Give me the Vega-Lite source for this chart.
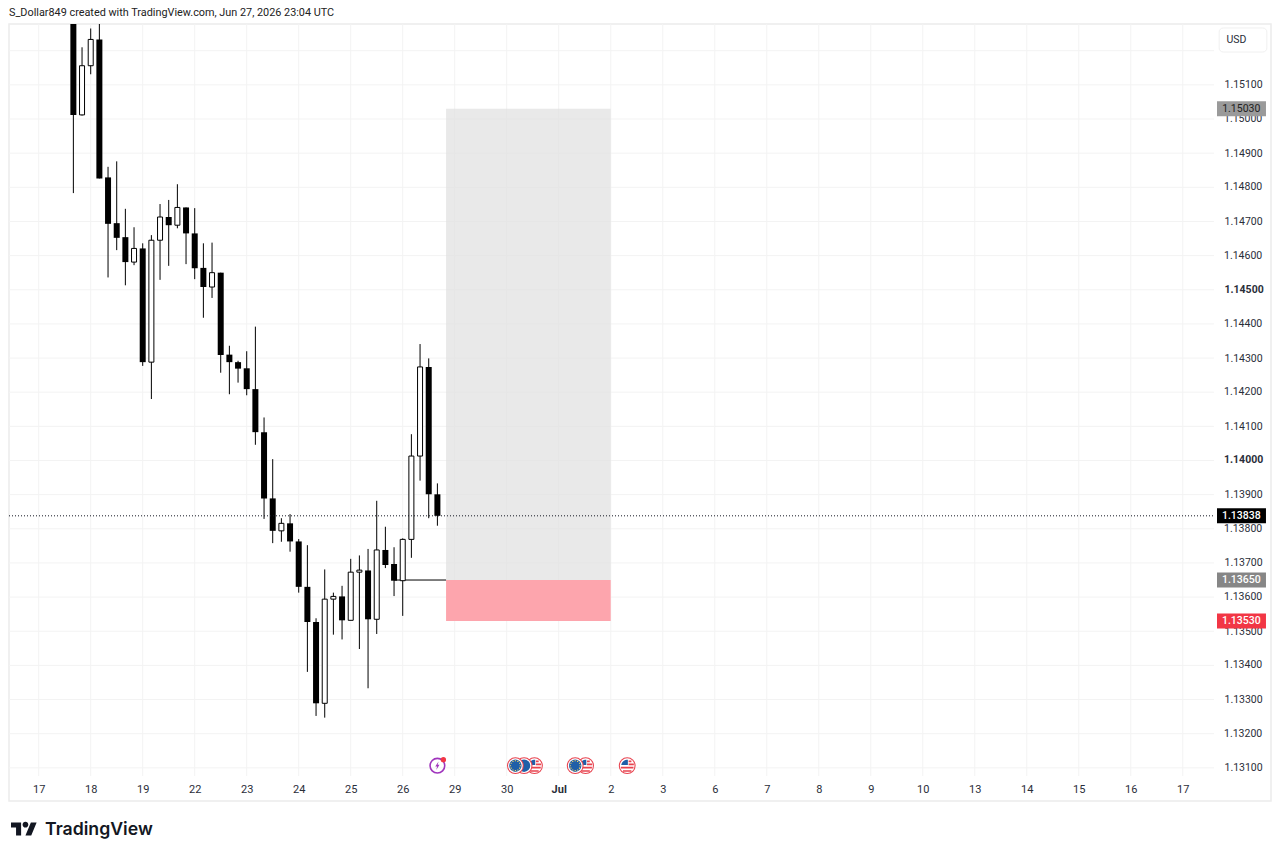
{
  "$schema": "https://vega.github.io/schema/vega-lite/v6.json",
  "autosize": {"type": "none"},
  "width": 1262,
  "height": 777,
  "padding": {"left": 9, "top": 24, "right": 9, "bottom": 55},
  "background": "#ffffff",
  "title": {"text": "S_Dollar849 created with TradingView.com, Jun 27, 2026 23:04 UTC", "anchor": "start", "frame": "group", "offset": 6, "font": "Roboto", "fontSize": 10.85, "fontWeight": "normal", "color": "#222222"},
  "config": {
    "view": {"stroke": "#ececec", "strokeWidth": 1.5},
    "font": "Roboto",
    "scale": {"continuousPadding": 0},
    "axis": {"labelOverlap": false, "labelBound": false, "labelFlush": false, "labelSeparation": 0}
  },
  "datasets": {
    "candles": [
      {"bar": 4, "open": 1.154, "high": 1.155, "low": 1.14783, "close": 1.15012},
      {"bar": 5, "open": 1.15012, "high": 1.1521, "low": 1.1501, "close": 1.15156},
      {"bar": 6, "open": 1.15156, "high": 1.15265, "low": 1.15131, "close": 1.15233},
      {"bar": 7, "open": 1.15233, "high": 1.1529, "low": 1.14826, "close": 1.14826},
      {"bar": 8, "open": 1.14829, "high": 1.1486, "low": 1.14536, "close": 1.14693},
      {"bar": 9, "open": 1.14695, "high": 1.14876, "low": 1.14616, "close": 1.14652},
      {"bar": 10, "open": 1.14654, "high": 1.14737, "low": 1.14513, "close": 1.14581},
      {"bar": 11, "open": 1.14581, "high": 1.14683, "low": 1.14572, "close": 1.14621},
      {"bar": 12, "open": 1.14621, "high": 1.14636, "low": 1.14277, "close": 1.14288},
      {"bar": 13, "open": 1.14288, "high": 1.1466, "low": 1.1418, "close": 1.14645},
      {"bar": 14, "open": 1.14645, "high": 1.14751, "low": 1.14529, "close": 1.14713},
      {"bar": 15, "open": 1.14713, "high": 1.14763, "low": 1.1457, "close": 1.14689},
      {"bar": 16, "open": 1.14689, "high": 1.14809, "low": 1.1468, "close": 1.14741},
      {"bar": 17, "open": 1.14741, "high": 1.14741, "low": 1.14575, "close": 1.14665},
      {"bar": 18, "open": 1.14665, "high": 1.14739, "low": 1.14531, "close": 1.14563},
      {"bar": 19, "open": 1.14564, "high": 1.14636, "low": 1.14418, "close": 1.14508},
      {"bar": 20, "open": 1.14508, "high": 1.14638, "low": 1.14476, "close": 1.1455},
      {"bar": 21, "open": 1.1455, "high": 1.1455, "low": 1.14257, "close": 1.14309},
      {"bar": 22, "open": 1.1431, "high": 1.14336, "low": 1.14194, "close": 1.14288},
      {"bar": 23, "open": 1.14288, "high": 1.14292, "low": 1.14228, "close": 1.14269},
      {"bar": 24, "open": 1.1427, "high": 1.1432, "low": 1.14191, "close": 1.14209},
      {"bar": 25, "open": 1.14209, "high": 1.14392, "low": 1.14046, "close": 1.14083},
      {"bar": 26, "open": 1.14083, "high": 1.14126, "low": 1.13829, "close": 1.13889},
      {"bar": 27, "open": 1.13889, "high": 1.14004, "low": 1.13758, "close": 1.13794},
      {"bar": 28, "open": 1.13794, "high": 1.13831, "low": 1.13762, "close": 1.13816},
      {"bar": 29, "open": 1.13816, "high": 1.13843, "low": 1.13733, "close": 1.13763},
      {"bar": 30, "open": 1.13763, "high": 1.1377, "low": 1.13613, "close": 1.1363},
      {"bar": 31, "open": 1.1363, "high": 1.13752, "low": 1.13381, "close": 1.13527},
      {"bar": 32, "open": 1.13527, "high": 1.13538, "low": 1.13252, "close": 1.13289},
      {"bar": 33, "open": 1.13289, "high": 1.13681, "low": 1.13247, "close": 1.13594},
      {"bar": 34, "open": 1.13594, "high": 1.13613, "low": 1.1349, "close": 1.13602},
      {"bar": 35, "open": 1.13602, "high": 1.13633, "low": 1.13476, "close": 1.13532},
      {"bar": 36, "open": 1.13532, "high": 1.13712, "low": 1.13532, "close": 1.13673},
      {"bar": 37, "open": 1.13673, "high": 1.13722, "low": 1.13448, "close": 1.13679},
      {"bar": 38, "open": 1.13678, "high": 1.13741, "low": 1.13333, "close": 1.13535},
      {"bar": 39, "open": 1.13535, "high": 1.13882, "low": 1.13492, "close": 1.13738},
      {"bar": 40, "open": 1.13738, "high": 1.13806, "low": 1.13685, "close": 1.13694},
      {"bar": 41, "open": 1.13697, "high": 1.13746, "low": 1.13603, "close": 1.13648},
      {"bar": 42, "open": 1.13648, "high": 1.13772, "low": 1.13545, "close": 1.13769},
      {"bar": 43, "open": 1.13769, "high": 1.14077, "low": 1.13715, "close": 1.14013},
      {"bar": 44, "open": 1.14013, "high": 1.14341, "low": 1.13941, "close": 1.14274},
      {"bar": 45, "open": 1.14274, "high": 1.14299, "low": 1.13831, "close": 1.13901},
      {"bar": 46, "open": 1.13901, "high": 1.13933, "low": 1.13809, "close": 1.13838}
    ],
    "priceLines": [
      {"price": 1.131}, {"price": 1.132}, {"price": 1.133}, {"price": 1.134}, {"price": 1.135}, {"price": 1.136},
      {"price": 1.137}, {"price": 1.138}, {"price": 1.139}, {"price": 1.14}, {"price": 1.141}, {"price": 1.142},
      {"price": 1.143}, {"price": 1.144}, {"price": 1.145}, {"price": 1.146}, {"price": 1.147}, {"price": 1.148},
      {"price": 1.149}, {"price": 1.15}, {"price": 1.151}, {"price": 1.152}
    ],
    "evenLabels": [
      {"price": 1.132}, {"price": 1.134}, {"price": 1.136}, {"price": 1.138}, {"price": 1.142},
      {"price": 1.144}, {"price": 1.146}, {"price": 1.148}, {"price": 1.15}
    ],
    "dayLines": [
      {"bar": 0}, {"bar": 6}, {"bar": 12}, {"bar": 18}, {"bar": 24}, {"bar": 30}, {"bar": 36}, {"bar": 42},
      {"bar": 48}, {"bar": 54}, {"bar": 60}, {"bar": 66}, {"bar": 72}, {"bar": 78}, {"bar": 84}, {"bar": 90},
      {"bar": 96}, {"bar": 102}, {"bar": 108}, {"bar": 114}, {"bar": 120}, {"bar": 126}, {"bar": 132}
    ],
    "tags": [
      {"price": 1.1503, "label": "1.15030", "kind": "target"},
      {"price": 1.13838, "label": "1.13838", "kind": "last"},
      {"price": 1.1365, "label": "1.13650", "kind": "entry"},
      {"price": 1.1353, "label": "1.13530", "kind": "stop"}
    ],
    "events": [
      {"bar": 57.2, "icon": "us", "rank": 1},
      {"bar": 63.1, "icon": "us", "rank": 1},
      {"bar": 67.9, "icon": "us", "rank": 1},
      {"bar": 56, "icon": "eu", "rank": 2},
      {"bar": 55, "icon": "eu", "rank": 3},
      {"bar": 61.9, "icon": "eu", "rank": 3}
    ]
  },
  "layer": [
    {
      "data": {"name": "priceLines"},
      "mark": {"type": "rule", "color": "#f3f3f3", "strokeWidth": 1},
      "encoding": {
        "x": {"datum": -3.427, "type": "quantitative", "scale": {"domain": [-3.427, 142.18], "nice": false, "zero": false}},
        "x2": {"datum": 135.6},
        "y": {"field": "price", "type": "quantitative", "scale": {"domain": [1.130029, 1.152782], "nice": false, "zero": false},
          "axis": {
            "title": null,
            "orient": "right",
            "values": [1.131, 1.132, 1.133, 1.134, 1.135, 1.136, 1.137, 1.138, 1.139, 1.14, 1.141, 1.142, 1.143, 1.144, 1.145, 1.146, 1.147, 1.148, 1.149, 1.15, 1.151],
            "format": ".5f",
            "grid": false,
            "domain": false,
            "ticks": false,
            "labelAlign": "left",
            "labelPadding": -47,
            "labelFont": "Roboto",
            "labelFontSize": 10.5,
            "labelColor": "#2a2e39",
            "labelOverlap": false,
            "labelFontWeight": {"condition": {"test": "abs(datum.value - 1.145) < 0.0001 || abs(datum.value - 1.14) < 0.0001", "value": "bold"}, "value": "normal"}
          }
        }
      }
    },
    {
      "data": {"name": "dayLines"},
      "mark": {"type": "rule", "color": "#f3f3f3", "strokeWidth": 1},
      "encoding": {
        "x": {"field": "bar", "type": "quantitative", "scale": {"domain": [-3.427, 142.18], "nice": false, "zero": false},
          "axis": {
            "title": null,
            "values": [0, 6, 12, 18, 24, 30, 36, 42, 48, 54, 60, 66, 72, 78, 84, 90, 96, 102, 108, 114, 120, 126, 132],
            "labelExpr": "['17','18','19','22','23','24','25','26','29','30','Jul','2','3','6','7','8','9','10','13','14','15','16','17'][round(datum.value / 6)]",
            "grid": false,
            "domain": false,
            "ticks": false,
            "labelPadding": -12,
            "labelBaseline": "middle",
            "labelFont": "Roboto",
            "labelFontSize": 11,
            "labelColor": "#2a2e39",
            "labelFontWeight": {"condition": {"test": "datum.value == 60", "value": "bold"}, "value": "normal"}
          }
        },
        "y": {"datum": 1.152782, "type": "quantitative", "axis": {"orient": "right", "labelOverlap": false}, "scale": {"domain": [1.130029, 1.152782], "nice": false, "zero": false}},
        "y2": {"datum": 1.130761}
      }
    },
    {
      "data": {"name": "evenLabels"},
      "mark": {"type": "text", "font": "Roboto", "fontSize": 10.5, "color": "#2a2e39", "align": "left", "baseline": "middle"},
      "encoding": {
        "x": {"datum": 136.76, "type": "quantitative", "scale": {"domain": [-3.427, 142.18], "nice": false, "zero": false}},
        "y": {"field": "price", "type": "quantitative", "axis": {"orient": "right", "labelOverlap": false}, "scale": {"domain": [1.130029, 1.152782], "nice": false, "zero": false}},
        "text": {"field": "price", "type": "quantitative", "format": ".5f"}
      }
    },
    {
      "data": {"values": [{"price": 1.14}]},
      "mark": {"type": "text", "font": "Roboto", "fontSize": 10.5, "fontWeight": "bold", "color": "#2a2e39", "align": "left", "baseline": "middle"},
      "encoding": {
        "x": {"datum": 136.76, "type": "quantitative", "scale": {"domain": [-3.427, 142.18], "nice": false, "zero": false}},
        "y": {"field": "price", "type": "quantitative", "axis": {"orient": "right", "labelOverlap": false}, "scale": {"domain": [1.130029, 1.152782], "nice": false, "zero": false}},
        "text": {"field": "price", "type": "quantitative", "format": ".5f"}
      }
    },
    {
      "data": {"values": [{"start": 47, "end": 66, "top": 1.1503, "bottom": 1.1365}]},
      "mark": {"type": "rect", "color": "#dfdfdf", "opacity": 0.7},
      "encoding": {
        "x": {"field": "start", "type": "quantitative", "scale": {"domain": [-3.427, 142.18], "nice": false, "zero": false}},
        "x2": {"field": "end"},
        "y": {"field": "top", "type": "quantitative", "axis": {"orient": "right", "labelOverlap": false}, "scale": {"domain": [1.130029, 1.152782], "nice": false, "zero": false}},
        "y2": {"field": "bottom"}
      }
    },
    {
      "data": {"values": [{"start": 47, "end": 66, "top": 1.1365, "bottom": 1.1353}]},
      "mark": {"type": "rect", "color": "#fda5ad", "opacity": 1},
      "encoding": {
        "x": {"field": "start", "type": "quantitative", "scale": {"domain": [-3.427, 142.18], "nice": false, "zero": false}},
        "x2": {"field": "end"},
        "y": {"field": "top", "type": "quantitative", "axis": {"orient": "right", "labelOverlap": false}, "scale": {"domain": [1.130029, 1.152782], "nice": false, "zero": false}},
        "y2": {"field": "bottom"}
      }
    },
    {
      "data": {"values": [{"start": 41, "end": 47, "price": 1.1365}]},
      "mark": {"type": "rule", "color": "#000000", "strokeWidth": 1},
      "encoding": {
        "x": {"field": "start", "type": "quantitative", "scale": {"domain": [-3.427, 142.18], "nice": false, "zero": false}},
        "x2": {"field": "end"},
        "y": {"field": "price", "type": "quantitative", "axis": {"orient": "right", "labelOverlap": false}, "scale": {"domain": [1.130029, 1.152782], "nice": false, "zero": false}}
      }
    },
    {
      "data": {"name": "candles"},
      "mark": {"type": "rule", "color": "#000000", "strokeWidth": 1, "clip": true},
      "encoding": {
        "x": {"field": "bar", "type": "quantitative", "scale": {"domain": [-3.427, 142.18], "nice": false, "zero": false}},
        "y": {"field": "low", "type": "quantitative", "axis": {"orient": "right", "labelOverlap": false}, "scale": {"domain": [1.130029, 1.152782], "nice": false, "zero": false}},
        "y2": {"field": "high"}
      }
    },
    {
      "data": {"name": "candles"},
      "transform": [{"filter": "datum.close < datum.open"}],
      "mark": {"type": "bar", "color": "#000000", "width": 6, "clip": true},
      "encoding": {
        "x": {"field": "bar", "type": "quantitative", "scale": {"domain": [-3.427, 142.18], "nice": false, "zero": false}},
        "y": {"field": "open", "type": "quantitative", "axis": {"orient": "right", "labelOverlap": false}, "scale": {"domain": [1.130029, 1.152782], "nice": false, "zero": false}},
        "y2": {"field": "close"}
      }
    },
    {
      "data": {"name": "candles"},
      "transform": [{"filter": "datum.close >= datum.open"}],
      "mark": {"type": "bar", "fill": "#ffffff", "stroke": "#000000", "strokeWidth": 1, "width": 5, "clip": true},
      "encoding": {
        "x": {"field": "bar", "type": "quantitative", "scale": {"domain": [-3.427, 142.18], "nice": false, "zero": false}},
        "y": {"field": "open", "type": "quantitative", "axis": {"orient": "right", "labelOverlap": false}, "scale": {"domain": [1.130029, 1.152782], "nice": false, "zero": false}},
        "y2": {"field": "close"}
      }
    },
    {
      "data": {"values": [{"price": 1.13838}]},
      "mark": {"type": "rule", "color": "#131722", "strokeWidth": 1, "strokeDash": [1, 2]},
      "encoding": {
        "x": {"datum": -3.427, "type": "quantitative", "scale": {"domain": [-3.427, 142.18], "nice": false, "zero": false}},
        "x2": {"datum": 135.6},
        "y": {"field": "price", "type": "quantitative", "axis": {"orient": "right", "labelOverlap": false}, "scale": {"domain": [1.130029, 1.152782], "nice": false, "zero": false}}
      }
    },
    {
      "data": {"name": "tags"},
      "mark": {"type": "bar", "height": 15},
      "encoding": {
        "x": {"datum": 135.95, "type": "quantitative", "scale": {"domain": [-3.427, 142.18], "nice": false, "zero": false}},
        "x2": {"datum": 141.6},
        "y": {"field": "price", "type": "quantitative", "axis": {"orient": "right", "labelOverlap": false}, "scale": {"domain": [1.130029, 1.152782], "nice": false, "zero": false}},
        "color": {
          "field": "kind",
          "type": "nominal",
          "scale": {"domain": ["target", "last", "entry", "stop"], "range": ["#9a9a9a", "#000000", "#868686", "#f23645"]},
          "legend": null
        }
      }
    },
    {
      "data": {"name": "tags"},
      "transform": [{"filter": "datum.kind == 'target'"}],
      "mark": {"type": "text", "font": "Roboto", "fontSize": 10.5, "color": "#222222"},
      "encoding": {
        "x": {"datum": 138.75, "type": "quantitative", "scale": {"domain": [-3.427, 142.18], "nice": false, "zero": false}},
        "y": {"field": "price", "type": "quantitative", "axis": {"orient": "right", "labelOverlap": false}, "scale": {"domain": [1.130029, 1.152782], "nice": false, "zero": false}},
        "text": {"field": "label"}
      }
    },
    {
      "data": {"name": "tags"},
      "transform": [{"filter": "datum.kind != 'target'"}],
      "mark": {"type": "text", "font": "Roboto", "fontSize": 10.5, "color": "#ffffff", "fontWeight": 500},
      "encoding": {
        "x": {"datum": 138.75, "type": "quantitative", "scale": {"domain": [-3.427, 142.18], "nice": false, "zero": false}},
        "y": {"field": "price", "type": "quantitative", "axis": {"orient": "right", "labelOverlap": false}, "scale": {"domain": [1.130029, 1.152782], "nice": false, "zero": false}},
        "text": {"field": "label"}
      }
    },
    {
      "data": {"values": [{"label": "USD"}]},
      "mark": {"type": "rect", "fill": "#ffffff", "stroke": "#f0f0f0", "strokeWidth": 1, "cornerRadius": 4},
      "encoding": {
        "x": {"datum": 136.2, "type": "quantitative", "scale": {"domain": [-3.427, 142.18], "nice": false, "zero": false}},
        "x2": {"datum": 141.7},
        "y": {"datum": 1.152665, "type": "quantitative", "axis": {"orient": "right", "labelOverlap": false}, "scale": {"domain": [1.130029, 1.152782], "nice": false, "zero": false}},
        "y2": {"datum": 1.151962}
      }
    },
    {
      "data": {"values": [{"label": "USD"}]},
      "mark": {"type": "text", "font": "Roboto", "fontSize": 10.5, "color": "#2a2e39"},
      "encoding": {
        "x": {"datum": 138.2, "type": "quantitative", "scale": {"domain": [-3.427, 142.18], "nice": false, "zero": false}},
        "y": {"datum": 1.152299, "type": "quantitative", "axis": {"orient": "right", "labelOverlap": false}, "scale": {"domain": [1.130029, 1.152782], "nice": false, "zero": false}},
        "text": {"field": "label"}
      }
    },
    {
      "data": {"name": "events"},
      "encoding": {
        "x": {"field": "bar", "type": "quantitative", "scale": {"domain": [-3.427, 142.18], "nice": false, "zero": false}},
        "y": {"datum": 1.131063, "type": "quantitative", "axis": {"orient": "right", "labelOverlap": false}, "scale": {"domain": [1.130029, 1.152782], "nice": false, "zero": false}}
      },
      "transform": [{"filter": "datum.rank == 1"}],
      "layer": [
        {"mark": {"type": "point", "shape": "circle", "filled": true, "size": 283, "color": "#e8434f", "opacity": 1}},
        {"mark": {"type": "point", "shape": "circle", "filled": true, "size": 216, "color": "#ffffff", "opacity": 1}},
        {"mark": {"type": "point", "shape": "M-0.85 -0.1 A0.86 0.86 0 0 1 -0.1 -0.85 L0.1 -0.85 L0.1 -0.1 Z", "filled": true, "size": 196, "color": "#1f5fa8", "opacity": 1}},
        {"mark": {"type": "point", "shape": "M0.2 -0.75 H0.6 V-0.5 H0.2 Z M0.2 -0.3 H0.95 V-0.05 H0.2 Z M-0.9 0.15 H0.9 V0.4 H-0.9 Z M-0.6 0.65 H0.6 V0.85 H-0.6 Z", "filled": true, "size": 196, "color": "#e8434f", "opacity": 1}}
      ]
    },
    {
      "data": {"name": "events"},
      "encoding": {
        "x": {"field": "bar", "type": "quantitative", "scale": {"domain": [-3.427, 142.18], "nice": false, "zero": false}},
        "y": {"datum": 1.131063, "type": "quantitative", "axis": {"orient": "right", "labelOverlap": false}, "scale": {"domain": [1.130029, 1.152782], "nice": false, "zero": false}}
      },
      "transform": [{"filter": "datum.rank == 2"}],
      "layer": [
        {"mark": {"type": "point", "shape": "circle", "filled": true, "size": 283, "color": "#e8434f", "opacity": 1}},
        {"mark": {"type": "point", "shape": "circle", "filled": true, "size": 216, "color": "#ffffff", "opacity": 1}},
        {"mark": {"type": "point", "shape": "circle", "filled": true, "size": 154, "color": "#1f5fa8", "opacity": 1}}
      ]
    },
    {
      "data": {"name": "events"},
      "encoding": {
        "x": {"field": "bar", "type": "quantitative", "scale": {"domain": [-3.427, 142.18], "nice": false, "zero": false}},
        "y": {"datum": 1.131063, "type": "quantitative", "axis": {"orient": "right", "labelOverlap": false}, "scale": {"domain": [1.130029, 1.152782], "nice": false, "zero": false}}
      },
      "transform": [{"filter": "datum.rank == 3"}],
      "layer": [
        {"mark": {"type": "point", "shape": "circle", "filled": true, "size": 283, "color": "#e8434f", "opacity": 1}},
        {"mark": {"type": "point", "shape": "circle", "filled": true, "size": 216, "color": "#ffffff", "opacity": 1}},
        {"mark": {"type": "point", "shape": "circle", "filled": true, "size": 154, "color": "#1f5fa8", "opacity": 1}},
        {"mark": {"type": "point", "shape": "M-0.08 -0.78 h0.16 v0.16 h-0.16 Z M0.27 -0.69 h0.16 v0.16 h-0.16 Z M0.53 -0.43 h0.16 v0.16 h-0.16 Z M0.62 -0.08 h0.16 v0.16 h-0.16 Z M0.53 0.27 h0.16 v0.16 h-0.16 Z M0.27 0.53 h0.16 v0.16 h-0.16 Z M-0.08 0.62 h0.16 v0.16 h-0.16 Z M-0.43 0.53 h0.16 v0.16 h-0.16 Z M-0.69 0.27 h0.16 v0.16 h-0.16 Z M-0.78 -0.08 h0.16 v0.16 h-0.16 Z M-0.69 -0.43 h0.16 v0.16 h-0.16 Z M-0.43 -0.69 h0.16 v0.16 h-0.16 Z", "filled": true, "size": 196, "color": "#ffd75e", "opacity": 1}}
      ]
    },
    {
      "data": {"values": [{"bar": 46}]},
      "encoding": {
        "x": {"field": "bar", "type": "quantitative", "scale": {"domain": [-3.427, 142.18], "nice": false, "zero": false}},
        "y": {"datum": 1.131063, "type": "quantitative", "axis": {"orient": "right", "labelOverlap": false}, "scale": {"domain": [1.130029, 1.152782], "nice": false, "zero": false}}
      },
      "layer": [
        {"mark": {"type": "point", "shape": "circle", "filled": false, "size": 215, "stroke": "#a035bd", "strokeWidth": 1.6, "opacity": 1}},
        {"mark": {"type": "point", "shape": "M0.25 -0.9 L-0.45 0.15 L-0.05 0.15 L-0.25 0.9 L0.45 -0.2 L0.05 -0.2 Z", "filled": true, "size": 90, "color": "#a035bd", "opacity": 1}},
        {"mark": {"type": "point", "shape": "circle", "filled": true, "size": 28, "color": "#f23645", "opacity": 1, "xOffset": 6, "yOffset": -6}}
      ]
    },
    {
      "data": {"values": [{"label": "TradingView"}]},
      "mark": {"type": "point", "shape": "M-0.222 0.5 H-0.611 V-0.111 H-1 V-0.5 H-0.222 Z M0.556 0.5 H0.111 L0.528 -0.5 H0.972 Z M-0.111 -0.333 A0.222 0.222 0 1 0 0.333 -0.333 A0.222 0.222 0 1 0 -0.111 -0.333 Z", "filled": true, "size": 676, "color": "#131722", "opacity": 1, "clip": false},
      "encoding": {
        "x": {"datum": -1.696, "type": "quantitative", "scale": {"domain": [-3.427, 142.18], "nice": false, "zero": false}},
        "y": {"datum": 1.129209, "type": "quantitative", "axis": {"orient": "right", "labelOverlap": false}, "scale": {"domain": [1.130029, 1.152782], "nice": false, "zero": false}}
      }
    },
    {
      "data": {"values": [{"label": "TradingView"}]},
      "mark": {"type": "text", "font": "Inter", "fontSize": 17.7, "fontWeight": 600, "color": "#131722", "align": "left", "baseline": "middle", "dy": 1},
      "encoding": {
        "x": {"datum": 0.727, "type": "quantitative", "scale": {"domain": [-3.427, 142.18], "nice": false, "zero": false}},
        "y": {"datum": 1.129209, "type": "quantitative", "axis": {"orient": "right", "labelOverlap": false}, "scale": {"domain": [1.130029, 1.152782], "nice": false, "zero": false}},
        "text": {"field": "label"}
      }
    }
  ]
}
